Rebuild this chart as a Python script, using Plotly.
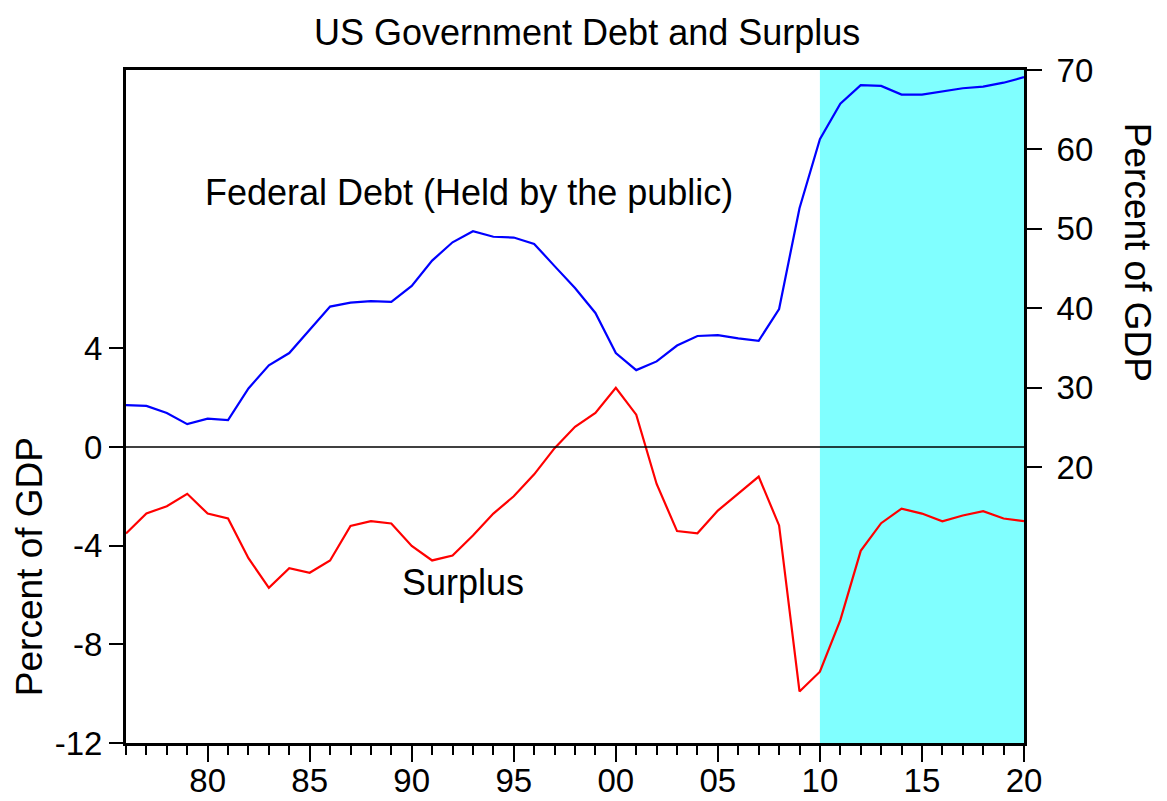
import plotly.graph_objects as go

years = list(range(1976, 2021))
debt = [27.8, 27.7, 26.8, 25.4, 26.1, 25.9, 29.9, 32.8, 34.35, 37.25,
        40.2, 40.7, 40.9, 40.8, 42.8, 46.0, 48.3, 49.7, 49.0, 48.9,
        48.1, 45.3, 42.55, 39.4, 34.35, 32.2, 33.3, 35.3, 36.5, 36.6,
        36.2, 35.9, 39.9, 52.6, 61.3, 65.75, 68.1, 68.0, 66.9, 66.9,
        67.3, 67.7, 67.9, 68.4, 69.1]
surplus = [-3.51, -2.70, -2.40, -1.90, -2.70, -2.90, -4.51, -5.71, -4.91, -5.10,
           -4.60, -3.20, -3.01, -3.10, -4.01, -4.60, -4.40, -3.59, -2.70, -2.00,
           -1.11, -0.05, 0.82, 1.38, 2.40, 1.31, -1.50, -3.41, -3.50, -2.58,
           -1.89, -1.20, -3.18, -9.91, -9.11, -7.02, -4.21, -3.09, -2.50, -2.70,
           -3.01, -2.78, -2.60, -2.90, -3.01]
x_tickvals = [1980, 1985, 1990, 1995, 2000, 2005, 2010, 2015, 2020]
x_ticktext = ["80", "85", "90", "95", "00", "05", "10", "15", "20"]
left_ticks = [-12, -8, -4, 0, 4]
left_ticktext = ["-12", "-8", "-4", "0", "4"]
right_ticks = [20, 30, 40, 50, 60, 70]
shade_start, shade_end = 2010, 2020

FONT = "Liberation Sans, Arial, sans-serif"
FS = 33
AFS = 36
VFS = 37

fig = go.Figure()
fig.add_trace(go.Scatter(x=years, y=surplus, mode="lines", line=dict(color="#FF0000", width=2.2),
                         yaxis="y", showlegend=False))
fig.add_trace(go.Scatter(x=years, y=debt, mode="lines", line=dict(color="#0000FF", width=2.2),
                         yaxis="y2", showlegend=False))

fig.add_shape(type="rect", xref="x", yref="paper", x0=shade_start, x1=shade_end, y0=0, y1=1,
              fillcolor="#80FFFF", line=dict(width=0), layer="below")
fig.add_shape(type="line", xref="paper", yref="y", x0=0, x1=1, y0=0, y1=0,
              line=dict(color="black", width=1.5))

fig.update_layout(
    width=1159, height=793,
    margin=dict(l=118, r=143, t=62, b=58, autoexpand=False),
    paper_bgcolor="white", plot_bgcolor="white",
    font=dict(family=FONT, size=FS, color="black"),
    xaxis=dict(range=[1976, 2020], tickvals=x_tickvals, ticktext=x_ticktext,
               ticks="outside", ticklen=16, tickwidth=1.5, tickcolor="black",
               ticklabelstandoff=-10,
               minor=dict(tickvals=years, ticks="outside", ticklen=9, tickwidth=1.5, tickcolor="black"),
               showline=True, linewidth=3, linecolor="black", mirror=True,
               showgrid=False, zeroline=False, tickfont=dict(size=FS), automargin=False),
    yaxis=dict(range=[-12, 15.28], tickvals=left_ticks, ticktext=left_ticktext,
               ticks="outside", ticklen=14, ticklabelstandoff=0,
               tickwidth=1.5, tickcolor="black", showline=True, linewidth=3, linecolor="black",
               showgrid=False, zeroline=False, tickfont=dict(size=FS), automargin=False),
    yaxis2=dict(range=[-14.76, 70], tickvals=right_ticks, ticks="outside", ticklen=15,
                ticklabelstandoff=8,
                tickwidth=1.5, tickcolor="black", overlaying="y", side="right",
                showline=True, linewidth=3, linecolor="black",
                showgrid=False, zeroline=False, tickfont=dict(size=FS), automargin=False),
    annotations=[
        dict(text="US Government Debt and Surplus", xref="paper", yref="paper", x=0.5134, y=1.055,
             showarrow=False, xanchor="center", yanchor="middle", font=dict(size=AFS)),
        dict(text="Federal Debt (Held by the public)", xref="paper", yref="paper", x=0.382, y=0.8187,
             showarrow=False, xanchor="center", yanchor="middle", font=dict(size=AFS)),
        dict(text="Surplus", xref="paper", yref="paper", x=0.375, y=0.239,
             showarrow=False, xanchor="center", yanchor="middle", font=dict(size=AFS)),
        dict(text="Percent of GDP", xref="paper", yref="paper", x=-0.1075, y=0.262, textangle=-90,
             showarrow=False, xanchor="center", yanchor="middle", borderpad=0, font=dict(size=VFS)),
        dict(text="Percent of GDP", xref="paper", yref="paper", x=1.126, y=0.7296, textangle=90,
             showarrow=False, xanchor="center", yanchor="middle", borderpad=0, font=dict(size=VFS)),
    ],
)

fig.write_html("out.html")
